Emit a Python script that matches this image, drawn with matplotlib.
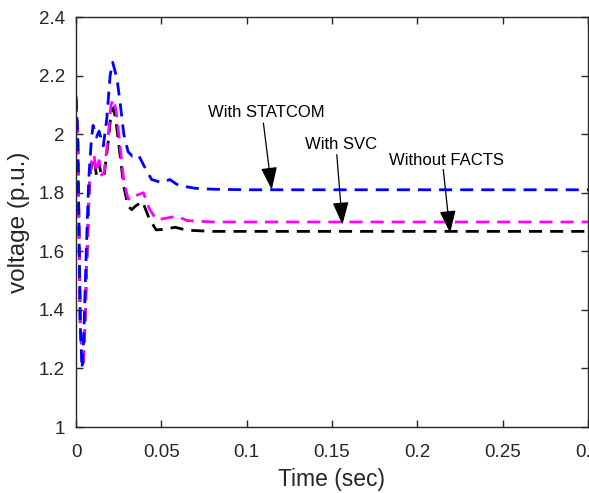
import matplotlib
matplotlib.use('Agg')
import matplotlib.pyplot as plt

plt.rcParams['font.family'] = ['Liberation Sans', 'DejaVu Sans']

# time (sec) / voltage (p.u.)
t_statcom = [0, 0.001, 0.0025, 0.0035, 0.0045, 0.006, 0.0075, 0.009, 0.010,
             0.012, 0.0135, 0.016, 0.018, 0.020, 0.0215, 0.024, 0.026, 0.028,
             0.0305, 0.033, 0.0365, 0.040, 0.0443, 0.050, 0.055, 0.060, 0.070,
             0.080, 0.10, 0.30]
v_statcom = [2.13, 2.0, 1.35, 1.2, 1.3, 1.6, 1.85, 1.98, 2.03,
             1.99, 2.01, 1.96, 2.05, 2.2, 2.245, 2.19, 2.10, 2.0,
             1.94, 1.925, 1.93, 1.89, 1.845, 1.835, 1.845, 1.825, 1.815,
             1.812, 1.81, 1.81]

t_svc = [0, 0.001, 0.0025, 0.004, 0.005, 0.0065, 0.008, 0.0095, 0.0105, 0.012,
         0.0135, 0.015, 0.0165, 0.019, 0.0205, 0.022, 0.0235, 0.026, 0.028,
         0.0305, 0.0325, 0.035, 0.0395, 0.043, 0.047, 0.052, 0.059, 0.065,
         0.08, 0.30]
v_svc = [2.12, 2.0, 1.35, 1.2, 1.3, 1.6, 1.85, 1.92, 1.93, 1.87,
         1.91, 1.86, 1.87, 2.0, 2.1, 2.12, 2.08, 1.95, 1.84,
         1.78, 1.775, 1.79, 1.80, 1.745, 1.708, 1.712, 1.72, 1.705,
         1.70, 1.70]

t_none = [0, 0.001, 0.0025, 0.004, 0.005, 0.0065, 0.008, 0.0095, 0.0105, 0.012,
          0.0135, 0.015, 0.0165, 0.019, 0.0205, 0.022, 0.0235, 0.026, 0.028,
          0.0305, 0.0326, 0.035, 0.039, 0.043, 0.047, 0.052, 0.058, 0.065,
          0.08, 0.30]
v_none = [2.12, 2.0, 1.35, 1.2, 1.3, 1.6, 1.85, 1.91, 1.92, 1.86,
          1.90, 1.855, 1.86, 1.98, 2.07, 2.09, 2.04, 1.92, 1.82,
          1.755, 1.742, 1.755, 1.77, 1.71, 1.673, 1.675, 1.682, 1.672,
          1.668, 1.668]

x_ticks = [0, 0.05, 0.1, 0.15, 0.2, 0.25, 0.3]
x_ticklabels = ['0', '0.05', '0.1', '0.15', '0.2', '0.25', '0.3']
y_ticks = [1, 1.2, 1.4, 1.6, 1.8, 2, 2.2, 2.4]
y_ticklabels = ['1', '1.2', '1.4', '1.6', '1.8', '2', '2.2', '2.4']

# label text, text position, arrow start, arrow tip
notes = [
    ('With STATCOM', (0.1118, 2.074), (0.1098, 2.038), (0.1147, 1.810)),
    ('With SVC', (0.1553, 1.964), (0.1528, 1.930), (0.1561, 1.691)),
    ('Without FACTS', (0.2172, 1.910), (0.2152, 1.879), (0.2192, 1.662)),
]

fig = plt.figure(figsize=(5.89, 4.93), dpi=100)
ax = fig.add_axes([76 / 589, 66 / 493, 512 / 589, 410 / 493])

dash = (0, (4.7, 2.9))
ax.plot(t_none, v_none, color='black', linewidth=2, linestyle=dash)
ax.plot(t_svc, v_svc, color='#FF00FF', linewidth=2, linestyle=dash)
ax.plot(t_statcom, v_statcom, color='#0000FF', linewidth=2, linestyle=dash)

for label, txt, start, tip in notes:
    ax.text(txt[0], txt[1], label, fontsize=12, ha='center', va='center')
    ax.annotate('', xy=tip, xytext=start,
                arrowprops=dict(arrowstyle='-|>,head_length=0.7,head_width=0.25',
                                color='black', lw=0.9, shrinkA=0, shrinkB=0,
                                mutation_scale=20))

ax.set_xlim(0, 0.3)
ax.set_ylim(1, 2.4)
ax.set_xticks(x_ticks)
ax.set_xticklabels(x_ticklabels)
ax.set_yticks(y_ticks)
ax.set_yticklabels(y_ticklabels)
ax.tick_params(direction='in', length=5, width=1, labelsize=13.5,
               top=True, right=True, colors='#262626')
ax.tick_params(axis='x', pad=12)
ax.tick_params(axis='y', pad=8)
for sp in ax.spines.values():
    sp.set_color('#262626')
    sp.set_linewidth(1)

ax.set_xlabel('Time (sec)', fontsize=16.5, color='#262626', labelpad=5)
ax.set_ylabel('voltage (p.u.)', fontsize=17.5, color='#262626', labelpad=6)

plt.savefig('out.png', dpi=100)
